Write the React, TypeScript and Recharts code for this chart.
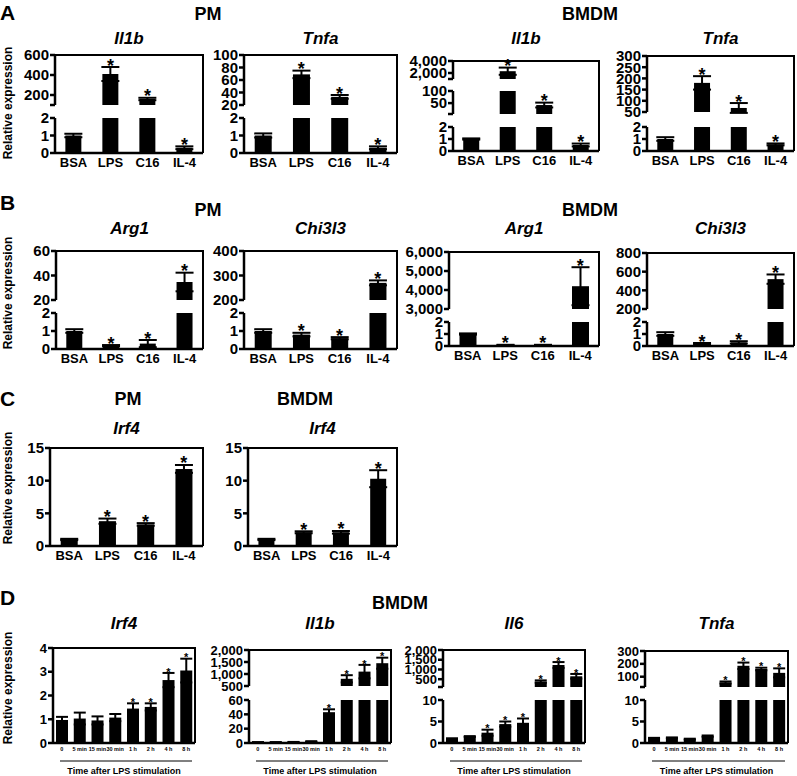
import React from "react";
import { ComposedChart, Bar, Line, XAxis, YAxis, ErrorBar } from "recharts";

const FONT = '"Liberation Sans", Arial, Helvetica, sans-serif';

// categories
const groups = ["BSA", "LPS", "C16", "IL-4"];
const timePoints = ["0", "5 min", "15 min", "30 min", "1 h", "2 h", "4 h", "8 h"];

// panel A  (M1 genes)
const pmIl1b = [1.0, 410, 160, 0.3];
const pmIl1bErr = [0.1, 70, 12, 0.08];
const pmTnfa = [1.0, 69, 33, 0.3];
const pmTnfaErr = [0.12, 6, 3, 0.08];
const bmIl1b = [1.0, 2300, 42, 0.5];
const bmIl1bErr = [0.05, 600, 10, 0.12];
const bmTnfa = [1.0, 180, 68, 0.55];
const bmTnfaErr = [0.15, 30, 22, 0.08];

// panel B  (M2 genes)
const pmArg1 = [1.0, 0.18, 0.3, 34.7];
const pmArg1Err = [0.1, 0.04, 0.2, 7.6];
const pmChi3l3 = [1.0, 0.8, 0.6, 270];
const pmChi3l3Err = [0.1, 0.1, 0.06, 10];
const bmArg1 = [1.0, 0.08, 0.08, 4200];
const bmArg1Err = [0.05, 0.02, 0.02, 1000];
const bmChi3l3 = [1.0, 0.2, 0.3, 520];
const bmChi3l3Err = [0.15, 0.05, 0.1, 50];

// panel C  (Irf4)
const pmIrf4 = [1.0, 3.8, 3.3, 11.8];
const pmIrf4Err = [0.1, 0.4, 0.2, 0.6];
const bmIrf4 = [1.0, 2.1, 2.1, 10.3];
const bmIrf4Err = [0.1, 0.15, 0.2, 1.3];

// panel D  (time course after LPS, BMDM)
const tIrf4 = [0.97, 1.03, 0.95, 1.07, 1.45, 1.52, 2.65, 3.05];
const tIrf4Err = [0.13, 0.25, 0.17, 0.15, 0.22, 0.15, 0.3, 0.5];
const tIl1b = [1.0, 1.0, 1.2, 2.0, 43, 800, 1100, 1450];
const tIl1bErr = [0.2, 0.2, 0.3, 0.5, 4, 150, 280, 230];
const tIl6 = [1.0, 1.5, 2.4, 4.4, 4.7, 380, 1230, 650];
const tIl6Err = [0.1, 0.1, 0.7, 0.6, 1.0, 60, 150, 120];
const tTnfa = [1.1, 1.2, 0.9, 1.6, 55, 185, 160, 130];
const tTnfaErr = [0.1, 0.1, 0.1, 0.15, 8, 25, 10, 35];

// significance marks
const starsVsBSA = [false, true, true, true];
const starsLate = [false, false, false, false, true, true, true, true];
const starsIl6 = [false, false, true, true, true, true, true, true];

// broken y axes: each segment is its own little chart stacked on the page
type Seg = { top: number; bottom: number; domain: [number, number]; ticks: number[] };
type PlotSpec = {
  title: string;
  titleY: number;
  x0: number;
  x1: number;
  cats: string[];
  vals: number[];
  errs: number[];
  stars: boolean[];
  segs: Seg[];
  small?: boolean;
};

const low2 = (top: number, bottom: number): Seg => ({ top, bottom, domain: [0, 2], ticks: [0, 1, 2] });

const plots: PlotSpec[] = [
  // A
  { title: "Il1b", titleY: 44, x0: 55, x1: 203, cats: groups, vals: pmIl1b, errs: pmIl1bErr, stars: starsVsBSA,
    segs: [{ top: 55, bottom: 105, domain: [100, 600], ticks: [200, 400, 600] }, low2(118, 153)] },
  { title: "Tnfa", titleY: 44, x0: 244, x1: 397, cats: groups, vals: pmTnfa, errs: pmTnfaErr, stars: starsVsBSA,
    segs: [{ top: 55, bottom: 105, domain: [20, 100], ticks: [20, 40, 60, 80, 100] }, low2(118, 153)] },
  { title: "Il1b", titleY: 44, x0: 453, x1: 599, cats: groups, vals: bmIl1b, errs: bmIl1bErr, stars: starsVsBSA,
    segs: [
      { top: 61, bottom: 79, domain: [1000, 4000], ticks: [2000, 4000] },
      { top: 91, bottom: 114, domain: [5, 100], ticks: [50, 100] },
      low2(127, 151),
    ] },
  { title: "Tnfa", titleY: 44, x0: 647, x1: 794, cats: groups, vals: bmTnfa, errs: bmTnfaErr, stars: starsVsBSA,
    segs: [{ top: 56, bottom: 112, domain: [50, 300], ticks: [50, 100, 150, 200, 250, 300] }, low2(127, 151)] },
  // B
  { title: "Arg1", titleY: 234, x0: 56, x1: 203, cats: groups, vals: pmArg1, errs: pmArg1Err, stars: starsVsBSA,
    segs: [{ top: 251, bottom: 300, domain: [20, 60], ticks: [20, 40, 60] }, low2(313, 349)] },
  { title: "Chi3l3", titleY: 234, x0: 244, x1: 397, cats: groups, vals: pmChi3l3, errs: pmChi3l3Err, stars: starsVsBSA,
    segs: [{ top: 251, bottom: 300, domain: [200, 400], ticks: [200, 300, 400] }, low2(313, 349)] },
  { title: "Arg1", titleY: 234, x0: 449, x1: 599, cats: groups, vals: bmArg1, errs: bmArg1Err, stars: starsVsBSA,
    segs: [{ top: 252, bottom: 309, domain: [3000, 6000], ticks: [3000, 4000, 5000, 6000] }, low2(322, 346)] },
  { title: "Chi3l3", titleY: 234, x0: 647, x1: 794, cats: groups, vals: bmChi3l3, errs: bmChi3l3Err, stars: starsVsBSA,
    segs: [{ top: 253, bottom: 309, domain: [200, 800], ticks: [200, 400, 600, 800] }, low2(322, 346)] },
  // C
  { title: "Irf4", titleY: 434, x0: 50, x1: 203, cats: groups, vals: pmIrf4, errs: pmIrf4Err, stars: starsVsBSA,
    segs: [{ top: 448, bottom: 546, domain: [0, 15], ticks: [0, 5, 10, 15] }] },
  { title: "Irf4", titleY: 434, x0: 248, x1: 397, cats: groups, vals: bmIrf4, errs: bmIrf4Err, stars: starsVsBSA,
    segs: [{ top: 448, bottom: 546, domain: [0, 15], ticks: [0, 5, 10, 15] }] },
  // D
  { title: "Irf4", titleY: 629, x0: 53, x1: 195, cats: timePoints, vals: tIrf4, errs: tIrf4Err, stars: starsLate, small: true,
    segs: [{ top: 648, bottom: 743, domain: [0, 4], ticks: [0, 1, 2, 3, 4] }] },
  { title: "Il1b", titleY: 629, x0: 249, x1: 391, cats: timePoints, vals: tIl1b, errs: tIl1bErr, stars: starsLate, small: true,
    segs: [
      { top: 650, bottom: 686, domain: [500, 2000], ticks: [500, 1000, 1500, 2000] },
      { top: 700, bottom: 743, domain: [0, 60], ticks: [0, 20, 40, 60] },
    ] },
  { title: "Il6", titleY: 629, x0: 443, x1: 585, cats: timePoints, vals: tIl6, errs: tIl6Err, stars: starsIl6, small: true,
    segs: [
      { top: 650, bottom: 687, domain: [100, 2000], ticks: [500, 1000, 1500, 2000] },
      { top: 700, bottom: 743, domain: [0, 10], ticks: [0, 5, 10] },
    ] },
  { title: "Tnfa", titleY: 629, x0: 645, x1: 788, cats: timePoints, vals: tTnfa, errs: tTnfaErr, stars: starsLate, small: true,
    segs: [
      { top: 651, bottom: 687, domain: [20, 300], ticks: [100, 200, 300] },
      { top: 700, bottom: 743, domain: [0, 10], ticks: [0, 5, 10] },
    ] },
];

const starLabel = (size: number) => (props: any) => {
  const { x, y, value } = props;
  if (value == null || x == null || y == null) return null;
  return (
    <text x={x} y={y + size * 0.25} textAnchor="middle" fontSize={size} fontWeight={700} fontFamily={FONT} fill="#000">
      *
    </text>
  );
};

function Plot({ p }: { p: PlotSpec }) {
  const YW = 60;
  const MT = 10;
  const MB = 9;
  const MR = 3;
  const last = p.segs.length - 1;
  const w = p.x1 - p.x0;
  const small = !!p.small;
  const top = p.segs[0].top;
  const bottom = p.segs[last].bottom;

  return (
    <>
      {p.segs.map((s, i) => {
        const [lo, hi] = s.domain;
        const rows = p.cats.map((c, k) => {
          const v = p.vals[k];
          const here = v >= lo && v <= hi;
          return {
            cat: c,
            v: v >= lo ? v : null,
            e: here ? p.errs[k] : null,
            s: here && p.stars[k] ? v + p.errs[k] : null,
          };
        });
        const isLast = i === last;
        const xh = isLast ? (small ? 14 : 22) : 0;
        const mb = isLast ? 0 : MB;
        const tickSet = Array.from(new Set([lo, ...s.ticks]));
        return (
          <div key={i} style={{ position: "absolute", left: p.x0 - YW, top: s.top - MT }}>
            <ComposedChart
              width={YW + w + MR}
              height={s.bottom - s.top + MT + xh + mb}
              data={rows}
              margin={{ top: MT, right: MR, bottom: mb, left: 0 }}
              barCategoryGap={small ? "17%" : "28%"}
            >
              <XAxis
                dataKey="cat"
                hide={!isLast}
                height={xh}
                interval={0}
                tickLine={false}
                tickSize={4}
                tickMargin={small ? 0 : 1}
                axisLine={{ stroke: "#000", strokeWidth: 2.5 }}
                tick={{ fill: "#000", fontSize: small ? 5.5 : 13, fontWeight: 700, fontFamily: FONT }}
              />
              <YAxis
                yAxisId="v"
                type="number"
                domain={s.domain}
                allowDataOverflow
                ticks={tickSet}
                interval={0}
                width={YW}
                tickSize={5}
                tickMargin={1}
                axisLine={{ stroke: "#000", strokeWidth: 2.5 }}
                tickLine={{ stroke: "#000", strokeWidth: 2.5 }}
                tick={{ fill: "#000", fontSize: small ? 13 : 15, fontWeight: 700, fontFamily: FONT }}
                tickFormatter={(t: number) => (s.ticks.includes(t) ? t.toLocaleString("en-US") : "")}
              />
              <YAxis yAxisId="s" type="number" orientation="right" width={0} domain={s.domain} hide />
              <Bar yAxisId="v" dataKey="v" fill="#000" isAnimationActive={false}>
                <ErrorBar dataKey="e" width={small ? 6 : 9} strokeWidth={2} stroke="#000" />
              </Bar>
              <Line
                yAxisId="s"
                dataKey="s"
                stroke="none"
                dot={false}
                activeDot={false}
                isAnimationActive={false}
                label={starLabel(small ? 11 : 18)}
              />
            </ComposedChart>
          </div>
        );
      })}
      <div
        style={{
          position: "absolute",
          left: p.x0,
          top: top - 1.25,
          width: w + 1.25,
          height: bottom - top + 1.25,
          borderTop: "2.5px solid #000",
          borderRight: "2.5px solid #000",
          boxSizing: "border-box",
          pointerEvents: "none",
        }}
      />
    </>
  );
}

const panelLetters = [
  { t: "A", y: 20 },
  { t: "B", y: 210 },
  { t: "C", y: 406 },
  { t: "D", y: 605 },
];
const headers = [
  { t: "PM", x: 208, y: 20 },
  { t: "BMDM", x: 590, y: 20 },
  { t: "PM", x: 208, y: 216 },
  { t: "BMDM", x: 590, y: 216 },
  { t: "PM", x: 128, y: 405 },
  { t: "BMDM", x: 305, y: 405 },
  { t: "BMDM", x: 400, y: 609 },
];
const yTitleCenters = [103, 293, 488, 688];

export default function App() {
  return (
    <div style={{ position: "absolute", left: 0, top: 0, width: 797, height: 776, background: "#fff", overflow: "hidden" }}>
      {plots.map((p, i) => (
        <Plot key={i} p={p} />
      ))}
      <svg width={797} height={776} style={{ position: "absolute", left: 0, top: 0, pointerEvents: "none" }}>
        <g fontFamily={FONT} fontWeight={700} fill="#000">
          {panelLetters.map((l) => (
            <text key={l.t} x={0} y={l.y} fontSize={21}>
              {l.t}
            </text>
          ))}
          {headers.map((h, i) => (
            <text key={i} x={h.x} y={h.y} fontSize={18} textAnchor="middle">
              {h.t}
            </text>
          ))}
          {plots.map((p, i) => (
            <text key={i} x={(p.x0 + p.x1) / 2} y={p.titleY} fontSize={17} fontStyle="italic" textAnchor="middle">
              {p.title}
            </text>
          ))}
          {yTitleCenters.map((c, i) => (
            <text key={i} x={12} y={c} fontSize={12} textAnchor="middle" transform={`rotate(-90 12 ${c})`}>
              Relative expression
            </text>
          ))}
          {plots
            .filter((p) => p.small)
            .map((p, i) => (
              <g key={i}>
                <line x1={p.x0 + 7} x2={p.x1 - 3} y1={761} y2={761} stroke="#000" strokeWidth={1} />
                <text x={(p.x0 + p.x1) / 2} y={774} fontSize={9} textAnchor="middle">
                  Time after LPS stimulation
                </text>
              </g>
            ))}
        </g>
      </svg>
    </div>
  );
}
